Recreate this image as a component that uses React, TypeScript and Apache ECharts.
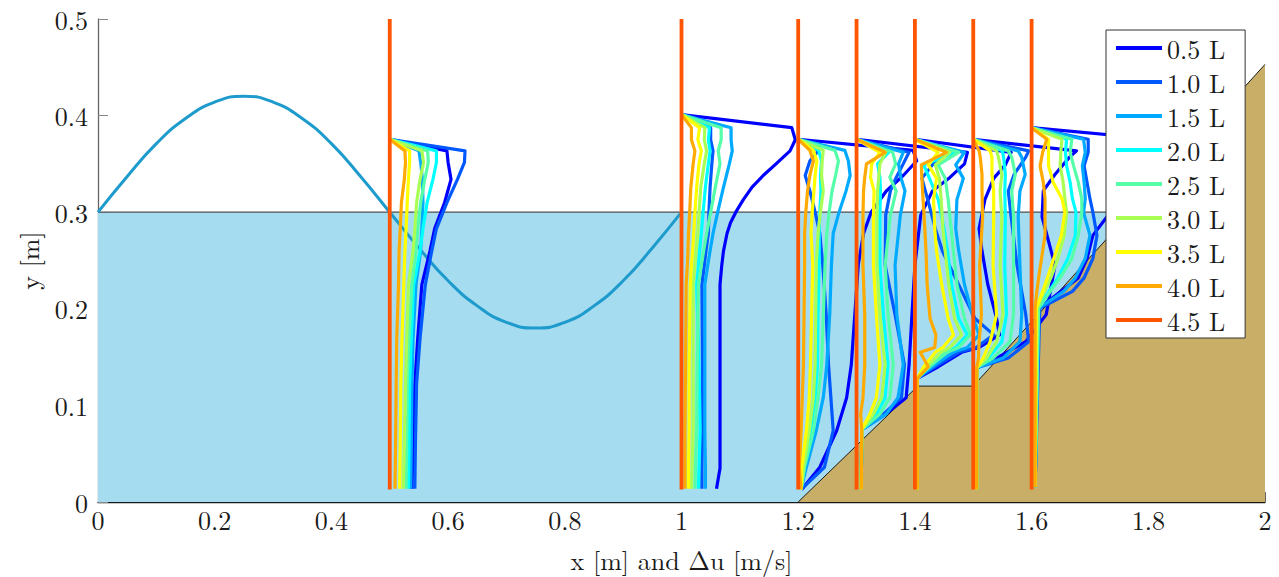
import { useEffect, useRef } from "react";
import * as echarts from "echarts";

// ---- legend / colours ----
const legendNames = ["0.5 L", "1.0 L", "1.5 L", "2.0 L", "2.5 L", "3.0 L", "3.5 L", "4.0 L", "4.5 L"];
const legendColors = ["#0000ff", "#0058ff", "#00aaff", "#00ffff", "#55ffaa", "#aaff55", "#ffff00", "#ffaa00", "#ff5500"];

// ---- measuring stations (x positions) ----
const stations = [0.5, 1.0, 1.2, 1.3, 1.4, 1.5, 1.6];
const stationBottom = 0.013;
const stationTop = 0.5;

// ---- velocity profiles: depth levels (y) and Δu per level, rows 0.5 L ... 4.0 L ----
const Y05 = [0.3755, 0.3635, 0.3515, 0.334, 0.31, 0.283, 0.26, 0.225, 0.17, 0.122, 0.06, 0.0137];
const U05 = [
  [0, 0.098, 0.1, 0.105, 0.094, 0.077, 0.069, 0.055, 0.048, 0.043, 0.04, 0.038],
  [0, 0.129, 0.128, 0.116, 0.098, 0.08, 0.072, 0.061, 0.052, 0.046, 0.044, 0.043],
  [0, 0.05, 0.053, 0.056, 0.057, 0.055, 0.053, 0.045, 0.04, 0.038, 0.037, 0.036],
  [0, 0.08, 0.08, 0.074, 0.064, 0.057, 0.052, 0.041, 0.037, 0.034, 0.033, 0.032],
  [0, 0.065, 0.066, 0.06, 0.053, 0.048, 0.045, 0.038, 0.033, 0.03, 0.029, 0.028],
  [0, 0.055, 0.058, 0.052, 0.046, 0.043, 0.04, 0.032, 0.029, 0.027, 0.025, 0.023],
  [0, 0.034, 0.034, 0.032, 0.03, 0.028, 0.026, 0.024, 0.021, 0.019, 0.018, 0.017],
  [0, 0.026, 0.027, 0.025, 0.02, 0.018, 0.016, 0.015, 0.012, 0.011, 0.01, 0.009],
];

const Y10 = [0.401, 0.3875, 0.375, 0.3635, 0.35, 0.338, 0.326, 0.313, 0.3, 0.289, 0.278, 0.26, 0.245, 0.225, 0.142, 0.074, 0.035, 0.0137];
const U10 = [
  [0, 0.189, 0.195, 0.186, 0.162, 0.14, 0.121, 0.106, 0.093, 0.084, 0.078, 0.072, 0.069, 0.066, 0.066, 0.066, 0.066, 0.06],
  [0, 0.05, 0.05, 0.054, 0.052, 0.0505, 0.049, 0.048, 0.047, 0.0465, 0.046, 0.042, 0.039, 0.035, 0.036, 0.036, 0.035, 0.035],
  [0, 0.085, 0.085, 0.087, 0.082, 0.077, 0.072, 0.067, 0.062, 0.058, 0.054, 0.049, 0.045, 0.04, 0.04, 0.04, 0.041, 0.041],
  [0, 0.048, 0.046, 0.049, 0.046, 0.0435, 0.041, 0.039, 0.037, 0.0355, 0.034, 0.031, 0.029, 0.026, 0.03, 0.032, 0.03, 0.029],
  [0, 0.068, 0.068, 0.063, 0.066, 0.062, 0.058, 0.054, 0.05, 0.0465, 0.043, 0.038, 0.034, 0.029, 0.027, 0.026, 0.024, 0.023],
  [0, 0.04, 0.039, 0.043, 0.039, 0.036, 0.033, 0.0315, 0.03, 0.029, 0.028, 0.025, 0.023, 0.02, 0.02, 0.02, 0.018, 0.017],
  [0, 0.031, 0.028, 0.034, 0.03, 0.028, 0.026, 0.0245, 0.023, 0.022, 0.021, 0.019, 0.017, 0.015, 0.013, 0.013, 0.012, 0.012],
  [0, 0.017, 0.017, 0.023, 0.02, 0.018, 0.016, 0.015, 0.014, 0.013, 0.012, 0.011, 0.01, 0.008, 0.007, 0.006, 0.006, 0.006],
];

const Y12 = [0.3755, 0.364, 0.353, 0.338, 0.322, 0.3, 0.278, 0.246, 0.194, 0.142, 0.108, 0.074, 0.036, 0.013];
const U12 = [
  [0, 0.197, 0.203, 0.18, 0.151, 0.125, 0.112, 0.103, 0.097, 0.091, 0.083, 0.066, 0.037, 0.006],
  [0, 0.035, 0.02, 0.012, 0.02, 0.029, 0.037, 0.042, 0.048, 0.052, 0.056, 0.06, 0.045, 0.005],
  [0, 0.08, 0.086, 0.089, 0.082, 0.07, 0.06, 0.057, 0.054, 0.049, 0.043, 0.031, 0.014, 0.005],
  [0, 0.035, 0.04, 0.038, 0.039, 0.037, 0.036, 0.036, 0.034, 0.033, 0.029, 0.021, 0.01, 0.005],
  [0, 0.063, 0.069, 0.064, 0.058, 0.053, 0.049, 0.046, 0.043, 0.04, 0.034, 0.026, 0.011, 0.005],
  [0, 0.043, 0.041, 0.04, 0.043, 0.038, 0.034, 0.031, 0.03, 0.029, 0.026, 0.019, 0.009, 0.005],
  [0, 0.026, 0.032, 0.029, 0.027, 0.024, 0.022, 0.025, 0.023, 0.021, 0.019, 0.014, 0.006, 0.005],
  [0, 0.02, 0.026, 0.02, 0.016, 0.013, 0.011, 0.011, 0.01, 0.009, 0.007, 0.005, 0.002, 0.005],
];

const Y13 = [0.3755, 0.362, 0.35, 0.336, 0.322, 0.297, 0.245, 0.194, 0.142, 0.108, 0.091, 0.075, 0.013];
const U13 = [
  [0, 0.19, 0.185, 0.16, 0.13, 0.11, 0.1, 0.095, 0.09, 0.085, 0.05, 0.009, 0.008],
  [0, 0.09, 0.08, 0.068, 0.058, 0.05, 0.049, 0.066, 0.082, 0.077, 0.046, 0.009, 0.008],
  [0, 0.08, 0.072, 0.076, 0.083, 0.075, 0.066, 0.069, 0.08, 0.071, 0.051, 0.009, 0.008],
  [0, 0.055, 0.036, 0.04, 0.041, 0.04, 0.04, 0.046, 0.054, 0.049, 0.034, 0.009, 0.008],
  [0, 0.062, 0.067, 0.057, 0.068, 0.058, 0.049, 0.054, 0.063, 0.057, 0.04, 0.009, 0.008],
  [0, 0.05, 0.04, 0.038, 0.036, 0.035, 0.035, 0.04, 0.049, 0.043, 0.029, 0.009, 0.008],
  [0, 0.04, 0.026, 0.024, 0.03, 0.029, 0.029, 0.034, 0.04, 0.034, 0.023, 0.009, 0.008],
  [0, 0.049, 0.017, 0.014, 0.012, 0.011, 0.011, 0.014, 0.014, 0.011, 0.007, 0.009, 0.008],
];

const Y14 = [0.3755, 0.362, 0.349, 0.335, 0.313, 0.283, 0.26, 0.225, 0.19, 0.173, 0.16, 0.155, 0.14, 0.128, 0.013];
const U14 = [
  [0, 0.165, 0.155, 0.135, 0.12, 0.11, 0.115, 0.125, 0.14, 0.145, 0.11, 0.08, 0.04, 0.004, 0.004],
  [0, 0.06, 0.03, 0.012, 0.022, 0.035, 0.047, 0.075, 0.103, 0.135, 0.105, 0.075, 0.035, 0.004, 0.004],
  [0, 0.085, 0.07, 0.083, 0.072, 0.07, 0.075, 0.085, 0.1, 0.11, 0.09, 0.065, 0.03, 0.004, 0.004],
  [0, 0.07, 0.015, 0.025, 0.04, 0.05, 0.056, 0.063, 0.075, 0.09, 0.07, 0.05, 0.022, 0.004, 0.004],
  [0, 0.075, 0.04, 0.052, 0.057, 0.062, 0.066, 0.072, 0.085, 0.095, 0.075, 0.055, 0.025, 0.004, 0.004],
  [0, 0.06, 0.035, 0.042, 0.045, 0.048, 0.052, 0.058, 0.068, 0.08, 0.06, 0.045, 0.02, 0.004, 0.004],
  [0, 0.04, 0.023, 0.037, 0.032, 0.034, 0.037, 0.046, 0.057, 0.066, 0.048, 0.035, 0.015, 0.004, 0.004],
  [0, 0.054, 0.011, 0.012, 0.014, 0.017, 0.019, 0.021, 0.026, 0.036, 0.034, 0.009, 0.023, 0.004, 0.004],
];

const Y15 = [0.3755, 0.3635, 0.357, 0.339, 0.322, 0.295, 0.245, 0.194, 0.166, 0.149, 0.139, 0.013];
const U15 = [
  [0, 0.177, 0.165, 0.14, 0.12, 0.118, 0.14, 0.125, 0.09, 0.04, 0.006, 0.006],
  [0, 0.095, 0.09, 0.07, 0.06, 0.065, 0.075, 0.09, 0.095, 0.06, 0.006, 0.006],
  [0, 0.077, 0.083, 0.089, 0.08, 0.077, 0.08, 0.083, 0.08, 0.051, 0.006, 0.006],
  [0, 0.05, 0.052, 0.055, 0.054, 0.055, 0.054, 0.057, 0.049, 0.026, 0.006, 0.006],
  [0, 0.06, 0.066, 0.072, 0.066, 0.069, 0.069, 0.069, 0.063, 0.034, 0.006, 0.006],
  [0, 0.04, 0.043, 0.049, 0.046, 0.049, 0.046, 0.051, 0.04, 0.023, 0.006, 0.006],
  [0, 0.029, 0.032, 0.032, 0.035, 0.035, 0.034, 0.04, 0.029, 0.017, 0.006, 0.006],
  [0, 0.01, 0.012, 0.015, 0.015, 0.016, 0.011, 0.014, 0.01, 0.009, 0.006, 0.006],
];

const Y16 = [0.3875, 0.3755, 0.362, 0.348, 0.331, 0.314, 0.3, 0.276, 0.252, 0.232, 0.218, 0.2006, 0.0154];
const U16 = [
  [0, 0.215, 0.205, 0.195, 0.175, 0.15, 0.135, 0.105, 0.095, 0.08, 0.05, 0.012, 0.006],
  [0, 0.097, 0.097, 0.09, 0.095, 0.1, 0.105, 0.112, 0.105, 0.09, 0.07, 0.014, 0.006],
  [0, 0.089, 0.092, 0.087, 0.09, 0.092, 0.089, 0.1, 0.092, 0.075, 0.055, 0.012, 0.006],
  [0, 0.06, 0.058, 0.06, 0.066, 0.07, 0.076, 0.075, 0.062, 0.045, 0.03, 0.01, 0.006],
  [0, 0.069, 0.066, 0.072, 0.08, 0.086, 0.086, 0.08, 0.069, 0.049, 0.032, 0.012, 0.006],
  [0, 0.052, 0.05, 0.049, 0.054, 0.057, 0.06, 0.056, 0.045, 0.033, 0.022, 0.009, 0.006],
  [0, 0.029, 0.029, 0.029, 0.037, 0.052, 0.057, 0.051, 0.038, 0.027, 0.019, 0.008, 0.006],
  [0, 0.026, 0.019, 0.0145, 0.02, 0.023, 0.023, 0.023, 0.017, 0.012, 0.009, 0.006, 0.006],
];

const profileLevels = [Y05, Y10, Y12, Y13, Y14, Y15, Y16];
const profileDu = [U05, U10, U12, U13, U14, U15, U16];

// ---- wave surface ----
const sineX = [0, 0.05, 0.1, 0.15, 0.2, 0.25, 0.3, 0.35, 0.4, 0.45, 0.5, 0.55, 0.6, 0.65, 0.7, 0.75, 0.8, 0.85, 0.9, 0.95, 1.0];
const sineY = [0.3, 0.337, 0.371, 0.397, 0.414, 0.42, 0.414, 0.397, 0.371, 0.337, 0.3, 0.263, 0.229, 0.203, 0.186, 0.18, 0.186, 0.203, 0.229, 0.263, 0.3];

// ---- still water and beach ----
const waterX = [0, 1.77];
const waterY = [0.3, 0.3];
const beachX = [1.2, 1.405, 1.5, 2.0];
const beachY = [0, 0.12, 0.12, 0.453];

// ---- axes ----
const xTicks = { min: 0, max: 2, interval: 0.2 };
const yTicks = { min: 0, max: 0.5, interval: 0.1 };

const FONT = "'Latin Modern Roman', 'CMU Serif', 'Liberation Serif', serif";

export default function App() {
  const ref = useRef<HTMLDivElement>(null);

  useEffect(() => {
    document.body.style.margin = "0";
    if (!ref.current) return;
    const chart = echarts.init(ref.current, undefined, { renderer: "svg" });

    const series: any[] = [];
    series.push({
      type: "line",
      name: "water",
      data: waterX.map((x, i) => [x, waterY[i]]),
      showSymbol: false,
      symbol: "none",
      silent: true,
      lineStyle: { color: "#4d4d4d", width: 1.2 },
      areaStyle: { color: "#a6dcef", opacity: 1 },
      z: 1,
    });
    series.push({
      type: "line",
      name: "beach",
      data: beachX.map((x, i) => [x, beachY[i]]),
      showSymbol: false,
      symbol: "none",
      silent: true,
      lineStyle: { color: "#1a1a1a", width: 1 },
      areaStyle: { color: "#c8ae66", opacity: 1 },
      z: 1,
    });
    series.push({
      type: "line",
      name: "wave",
      data: sineX.map((x, i) => [x, sineY[i]]),
      showSymbol: false,
      symbol: "none",
      smooth: true,
      silent: true,
      lineStyle: { color: "#1e9bcd", width: 3 },
      z: 2,
    });

    for (let c = 0; c < 8; c++) {
      stations.forEach((s, k) => {
        const lv = profileLevels[k];
        const du = profileDu[k][c];
        series.push({
          type: "line",
          name: legendNames[c],
          data: lv.map((y, i) => [s + du[i], y]),
          showSymbol: false,
          symbol: "none",
          silent: true,
          color: legendColors[c],
          lineStyle: { color: legendColors[c], width: 3.2, join: "round" },
          itemStyle: { color: legendColors[c] },
          z: 3,
        });
      });
    }
    stations.forEach((s) => {
      series.push({
        type: "line",
        name: legendNames[8],
        data: [
          [s, stationBottom],
          [s, stationTop],
        ],
        showSymbol: false,
        symbol: "none",
        silent: true,
        color: legendColors[8],
        lineStyle: { color: legendColors[8], width: 3.8 },
        itemStyle: { color: legendColors[8] },
        z: 4,
      });
    });

    chart.setOption({
      animation: false,
      textStyle: { fontFamily: FONT },
      grid: { left: 98, right: 14, top: 19, bottom: 72, containLabel: false },
      legend: {
        data: legendNames,
        orient: "vertical",
        left: 1106,
        top: 30,
        icon: "rect",
        itemWidth: 46,
        itemHeight: 4,
        itemGap: 8,
        padding: [5, 20, 5, 10],
        backgroundColor: "#ffffff",
        borderColor: "#333333",
        borderWidth: 1,
        selectedMode: false,
        textStyle: { fontFamily: FONT, fontSize: 26, color: "#1a1a1a", lineHeight: 26 },
        z: 20,
      },
      xAxis: {
        type: "value",
        min: xTicks.min,
        max: xTicks.max,
        interval: xTicks.interval,
        name: "x [m] and Δu [m/s]",
        nameLocation: "middle",
        nameGap: 44,
        nameTextStyle: { fontFamily: FONT, fontSize: 26, color: "#1a1a1a" },
        axisLine: { show: true, onZero: false, lineStyle: { color: "#1a1a1a", width: 1.3 } },
        axisTick: { show: true, inside: true, length: 10, lineStyle: { color: "#666" } },
        axisLabel: { fontFamily: FONT, fontSize: 26, color: "#1a1a1a", margin: 4 },
        splitLine: { show: false },
      },
      yAxis: {
        type: "value",
        min: yTicks.min,
        max: yTicks.max,
        interval: yTicks.interval,
        name: "y [m]",
        nameLocation: "middle",
        nameGap: 57,
        nameRotate: 90,
        nameTextStyle: { fontFamily: FONT, fontSize: 26, color: "#1a1a1a" },
        axisLine: { show: true, onZero: false, lineStyle: { color: "#666666", width: 1.3 } },
        axisTick: { show: true, inside: true, length: 10, lineStyle: { color: "#888" } },
        axisLabel: { fontFamily: FONT, fontSize: 26, color: "#1a1a1a", margin: 10 },
        splitLine: { show: false },
      },
      series,
    });

    return () => chart.dispose();
  }, []);

  return <div ref={ref} style={{ width: 1279, height: 577 }} />;
}
